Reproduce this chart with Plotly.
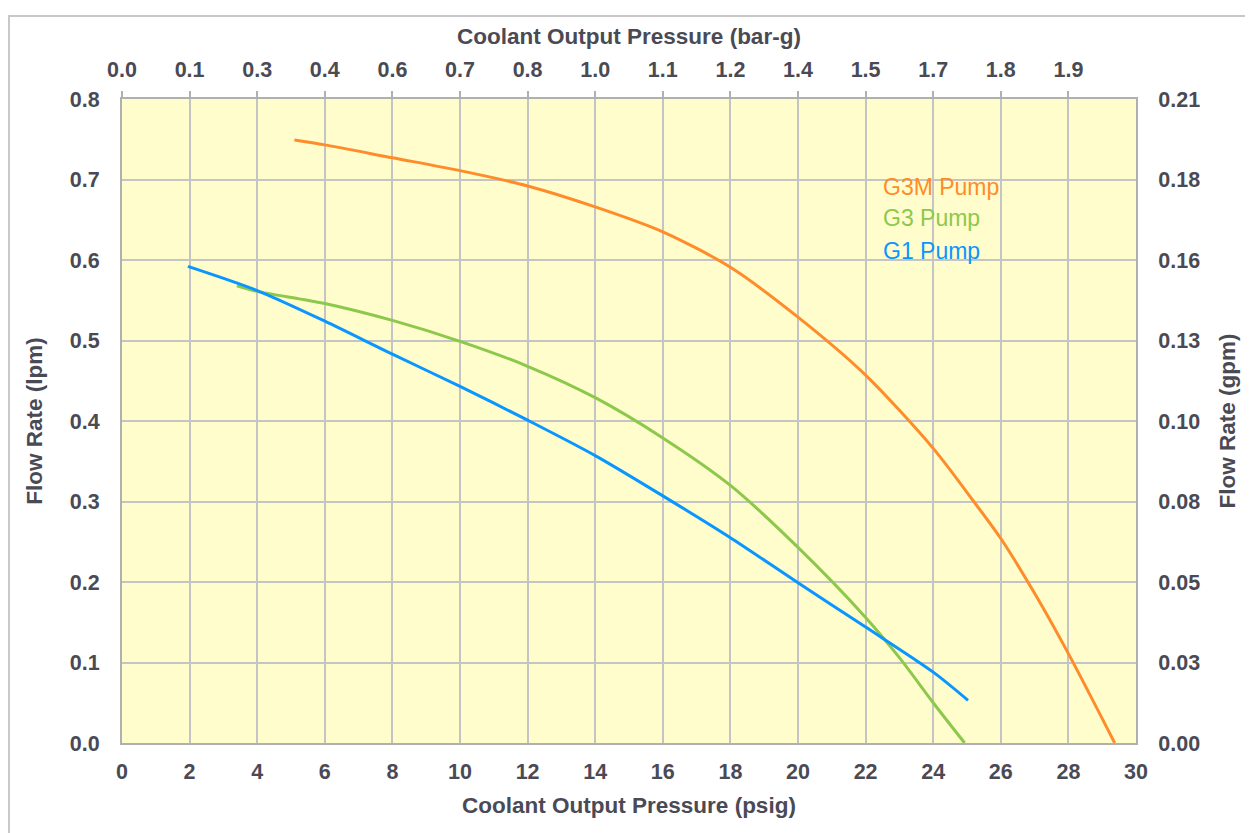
import plotly.graph_objects as go

# ---------------- data ----------------
series_names = ["G3M Pump", "G3 Pump", "G1 Pump"]
series_colors = ["#FF8C2A", "#8CC84B", "#0A96FF"]

g3m_psig = [5.1, 6, 8, 10, 12, 14, 16, 18, 20, 22, 24, 25.2, 26, 27, 28, 29.37]
g3m_lpm = [0.749, 0.743, 0.727, 0.711, 0.692, 0.666, 0.635, 0.591, 0.529, 0.457, 0.366, 0.300, 0.254, 0.186, 0.111, 0.0]

g3_psig = [3.4, 4, 6, 8, 10, 12, 14, 16, 18, 20, 22, 23, 24, 24.93]
g3_lpm = [0.568, 0.561, 0.546, 0.525, 0.499, 0.468, 0.429, 0.379, 0.320, 0.243, 0.156, 0.106, 0.050, 0.0]

g1_psig = [1.95, 4, 6, 8, 10, 12, 14, 16, 18, 20, 22, 24, 25.03]
g1_lpm = [0.592, 0.562, 0.524, 0.483, 0.443, 0.401, 0.357, 0.307, 0.255, 0.199, 0.144, 0.088, 0.053]

psig_ticks = [0, 2, 4, 6, 8, 10, 12, 14, 16, 18, 20, 22, 24, 26, 28, 30]
bar_ticks = [0, 2, 4, 6, 8, 10, 12, 14, 16, 18, 20, 22, 24, 26, 28]
bar_labels = ["0.0", "0.1", "0.3", "0.4", "0.6", "0.7", "0.8", "1.0", "1.1", "1.2", "1.4", "1.5", "1.7", "1.8", "1.9"]
lpm_ticks = [0.0, 0.1, 0.2, 0.3, 0.4, 0.5, 0.6, 0.7, 0.8]
gpm_labels = ["0.00", "0.03", "0.05", "0.08", "0.10", "0.13", "0.16", "0.18", "0.21"]

# legend label positions (psig, lpm)
label_x = 22.45
label_y = [0.691, 0.652, 0.611]

# ---------------- figure ----------------
# page has an 8px body margin, so the figure is sized to the remaining window
W, H = 1245, 825
L, R, T, B = 114, 117, 91, 90
TXT = "#4a4a55"
FONT = "Liberation Sans, Arial, sans-serif"
TICK = 21.5
TTL = 22.5

fig = go.Figure()
for xs, ys, name, col in [(g3m_psig, g3m_lpm, series_names[0], series_colors[0]),
                          (g3_psig, g3_lpm, series_names[1], series_colors[1]),
                          (g1_psig, g1_lpm, series_names[2], series_colors[2])]:
    fig.add_trace(go.Scatter(x=xs, y=ys, mode="lines", name=name,
                             line=dict(color=col, width=3, shape="spline", smoothing=0.8),
                             showlegend=False))

# invisible trace to activate secondary axes
fig.add_trace(go.Scatter(x=[0, 30], y=[0, 0.8], xaxis="x2", yaxis="y2",
                         mode="markers", marker=dict(opacity=0), showlegend=False, hoverinfo="skip"))

for name, col, yy in zip(series_names, series_colors, label_y):
    fig.add_annotation(x=label_x, y=yy, xref="x", yref="y", text=name, showarrow=False,
                       xanchor="left", yanchor="middle",
                       font=dict(family=FONT, size=23, color=col))

grid = "#C4C4C4"
line_col = "#B0B0B0"
fig.update_layout(
    width=W, height=H,
    margin=dict(l=L, r=R, t=T, b=B),
    paper_bgcolor="white",
    plot_bgcolor="#FFFDCB",
    font=dict(family=FONT, color=TXT),
    xaxis=dict(range=[0, 30], tickvals=psig_ticks, ticktext=[str(v) for v in psig_ticks],
               showgrid=True, gridcolor=grid, gridwidth=1.5, zeroline=False,
               showline=True, linecolor=line_col, linewidth=2,
               ticks="", ticklabelstandoff=8,
               tickfont=dict(family=FONT, size=TICK, color=TXT, weight="bold"),
               title=dict(text="Coolant Output Pressure (psig)", standoff=14,
                          font=dict(family=FONT, size=TTL, color=TXT, weight="bold"))),
    xaxis2=dict(range=[0, 30], overlaying="x", side="top", tickvals=bar_ticks, ticktext=bar_labels,
                showgrid=False, zeroline=False, showline=True, linecolor=line_col, linewidth=2,
                ticks="outside", ticklen=6, tickcolor=line_col, tickwidth=1.5, ticklabelstandoff=5,
                tickfont=dict(family=FONT, size=TICK, color=TXT, weight="bold"),
                title=dict(text="Coolant Output Pressure (bar-g)", standoff=8,
                           font=dict(family=FONT, size=TTL, color=TXT, weight="bold"))),
    yaxis=dict(range=[0, 0.8], tickvals=lpm_ticks, ticktext=["%.1f" % v for v in lpm_ticks],
               showgrid=True, gridcolor=grid, gridwidth=1.5, zeroline=False,
               showline=True, linecolor=line_col, linewidth=2,
               ticks="", ticklabelstandoff=16,
               tickfont=dict(family=FONT, size=TICK, color=TXT, weight="bold"),
               title=dict(text="Flow Rate (lpm)", standoff=21,
                          font=dict(family=FONT, size=TTL, color=TXT, weight="bold"))),
    yaxis2=dict(range=[0, 0.8], overlaying="y", side="right", tickvals=lpm_ticks, ticktext=gpm_labels,
                showgrid=False, zeroline=False, showline=True, linecolor=line_col, linewidth=2,
                ticks="", ticklabelstandoff=16,
                tickfont=dict(family=FONT, size=TICK, color=TXT, weight="bold"),
                title=dict(text="Flow Rate (gpm)", standoff=20,
                           font=dict(family=FONT, size=TTL, color=TXT, weight="bold"))),
)

# outer chart border (figure pixel coords -> paper coords)
pw, ph = W - L - R, H - T - B
fig.add_shape(type="rect", xref="paper", yref="paper",
              x0=(1 - L) / pw, x1=(1243 - L) / pw,
              y0=(H - B - 860) / ph, y1=(H - B - 8) / ph,
              line=dict(color="#C8C8C8", width=2), fillcolor="rgba(0,0,0,0)", layer="below")

fig.write_html("out.html")
